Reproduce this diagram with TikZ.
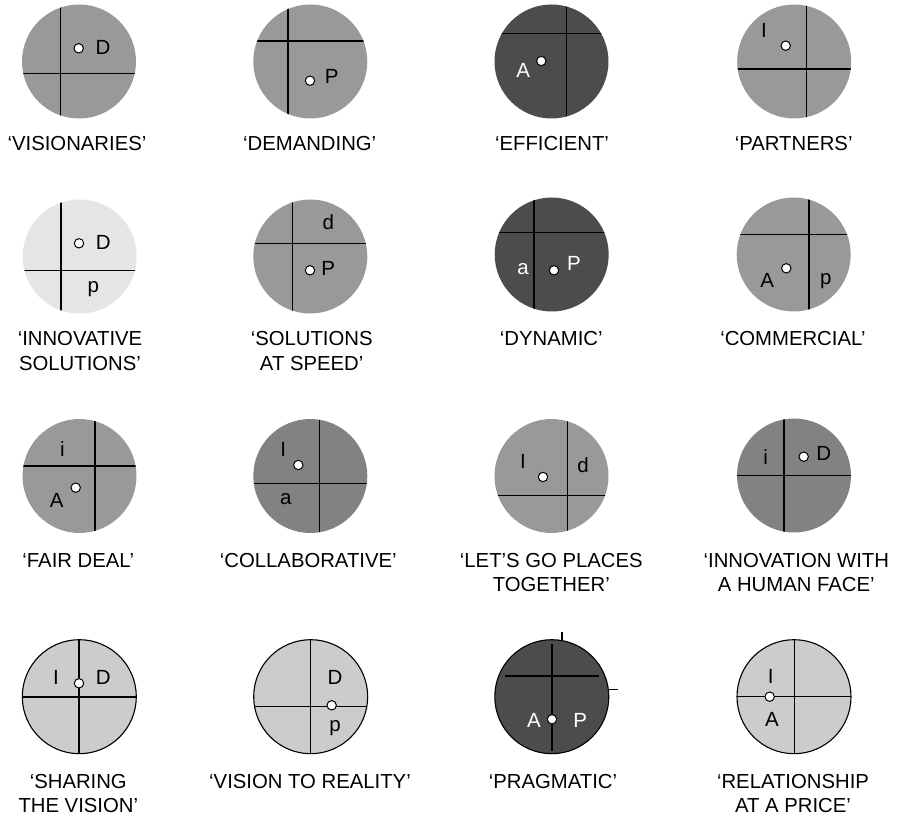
\documentclass[tikz,border=0pt]{standalone}
\usepackage{fontspec}
\setmainfont{Liberation Sans}
\definecolor{gmid}{gray}{0.6}
\definecolor{gdark}{gray}{0.3}
\definecolor{glight}{gray}{0.9}
\definecolor{gmd}{gray}{0.51}
\definecolor{gpale}{gray}{0.8}
\tikzset{
  disc/.style={circle, minimum size=114pt, inner sep=0pt, draw=none},
  ringed/.style={draw=black, line width=1.1pt},
  divider/.style={black, line width=1.2pt},
  dot/.style={circle, fill=white, draw=black, line width=1pt, minimum size=9.4pt, inner sep=0pt},
  letter/.style={font=\fontsize{20.5}{23}\selectfont, inner sep=0pt},
  wletter/.style={letter, text=white},
  caption/.style={font=\fontsize{20.3}{24.5}\selectfont, align=center, inner sep=0pt}
}
% #1 name, #2 cx, #3 cy, #4 fill, #5 vertical x, #6 horizontal y
\newcommand\quaddisc[6]{%
  \node[disc, fill=#4] (#1) at (#2,#3) {};
  \begin{scope}
    \clip (#2,#3) circle (57);
    \draw[divider] (#5,#3-62) -- (#5,#3+62);
    \draw[divider] (#2-62,#6) -- (#2+62,#6);
  \end{scope}}
\begin{document}
\begin{tikzpicture}[x=1pt,y=-1pt]
\useasboundingbox (0,0) rectangle (898,818);
\fill[white] (0,0) rectangle (898,818);

% Row 1
\quaddisc{c1}{79}{61.5}{gmid}{60.7}{73.3}
\node[dot] (d1) at (78.7,48.3) {};
\node[letter] (l1a) at (103,47) {D};
\node[caption] (t1) at (77,143.3) {‘VISIONARIES’};

\quaddisc{c2}{310.3}{61.5}{gmid}{288}{41}
\node[dot] (d2) at (310,80.7) {};
\node[letter] (l2a) at (331.7,76) {P};
\node[caption] (t2) at (309.7,143.3) {‘DEMANDING’};

\quaddisc{c3}{551.5}{61.5}{gdark}{566.7}{33.3}
\node[dot] (d3) at (541.3,61) {};
\node[wletter] (l3a) at (523.3,70) {A};
\node[caption] (t3) at (552,143.3) {‘EFFICIENT’};

\quaddisc{c4}{794.2}{61.5}{gmid}{806.3}{69}
\node[dot] (d4) at (785.7,45.7) {};
\node[letter] (l4a) at (764,30) {I};
\node[caption] (t4) at (793.7,143.3) {‘PARTNERS’};

% Row 2
\quaddisc{c5}{79.7}{256.5}{glight}{61}{270.7}
\node[dot] (d5) at (79,243.3) {};
\node[letter] (l5a) at (103.3,242.3) {D};
\node[letter] (l5b) at (93.3,289.3) {p};
\node[caption] (t5) at (80,350.8) {‘INNOVATIVE\\SOLUTIONS’};

\quaddisc{c6}{310.3}{256.5}{gmid}{292.7}{243.7}
\node[dot] (d6) at (310,270.3) {};
\node[letter] (l6a) at (328.3,268.3) {P};
\node[letter] (l6b) at (328.3,221.7) {d};
\node[caption] (t6) at (311.7,350.8) {‘SOLUTIONS\\AT SPEED’};

\quaddisc{c7}{551.7}{254.5}{gdark}{534}{232.7}
\node[dot] (d7) at (554,270.3) {};
\node[wletter] (l7a) at (574,263.3) {P};
\node[wletter] (l7b) at (523,269.3) {a};
\node[caption] (t7) at (551.3,338.3) {‘DYNAMIC’};

\quaddisc{c8}{793.7}{254.5}{gmid}{809}{234.3}
\node[dot] (d8) at (786.3,268.3) {};
\node[letter] (l8a) at (767.3,280) {A};
\node[letter] (l8b) at (825.7,281) {p};
\node[caption] (t8) at (793,338.3) {‘COMMERCIAL’};

% Row 3
\quaddisc{c9}{79.5}{476}{gmid}{95}{466}
\node[dot] (d9) at (75.7,487.7) {};
\node[letter] (l9a) at (56.7,500) {A};
\node[letter] (l9b) at (62.3,449.3) {i};
\node[caption] (t9) at (78.3,560.7) {‘FAIR DEAL’};

\quaddisc{c10}{310.3}{476}{gmd}{319.3}{483.3}
\node[dot] (d10) at (298.3,465) {};
\node[letter] (l10a) at (283.3,449.3) {I};
\node[letter] (l10b) at (285.7,499) {a};
\node[caption] (t10) at (308.3,560.7) {‘COLLABORATIVE’};

\quaddisc{c11}{551.5}{476}{gmid}{567.3}{495.7}
\node[dot] (d11) at (543,477) {};
\node[letter] (l11a) at (523,461.7) {I};
\node[letter] (l11b) at (583,465) {d};
\node[caption] (t11) at (551.3,572.5) {‘LET’S GO PLACES\\TOGETHER’};

\quaddisc{c12}{794}{475.5}{gmd}{784}{475.7}
\node[dot] (d12) at (803.7,456.7) {};
\node[letter] (l12a) at (823.7,453.3) {D};
\node[letter] (l12b) at (765.7,457.3) {i};
\node[caption] (t12) at (796.3,572.5) {‘INNOVATION WITH\\A HUMAN FACE’};

% Row 4
\quaddisc{c13}{79.3}{696.7}{gpale}{79}{697}
\draw[ringed] (c13.center) circle (57);
\node[dot] (d13) at (79,683.3) {};
\node[letter] (l13a) at (56,677.7) {I};
\node[letter] (l13b) at (103.3,677.7) {D};
\node[caption] (t13) at (78.3,793.7) {‘SHARING\\THE VISION’};

\quaddisc{c14}{310.7}{696.7}{gpale}{310.7}{706.7}
\draw[ringed] (c14.center) circle (57);
\node[dot] (d14) at (331.7,705.3) {};
\node[letter] (l14a) at (335,677.7) {D};
\node[letter] (l14b) at (335,728.3) {p};
\node[caption] (t14) at (310,781.7) {‘VISION TO REALITY’};

\node[disc, fill=gdark] (c15) at (551.8,696.7) {};
\draw[ringed] (c15.center) circle (57);
\coordinate (v15a) at (552,644.3);
\coordinate (v15b) at (552,750.7);
\coordinate (h15a) at (505,676);
\coordinate (h15b) at (599,676);
\draw[divider] (v15a) -- (v15b);
\draw[divider] (h15a) -- (h15b);
\coordinate (k15a) at (562,632.3);
\coordinate (k15b) at (562,640.7);
\coordinate (k15c) at (609.3,689.3);
\coordinate (k15d) at (618.3,689.3);
\draw[divider] (k15a) -- (k15b);
\draw[divider] (k15c) -- (k15d);
\node[dot] (d15) at (552,719.3) {};
\node[wletter] (l15a) at (534,720) {A};
\node[wletter] (l15b) at (580.3,720) {P};
\node[caption] (t15) at (553,781.7) {‘PRAGMATIC’};

\quaddisc{c16}{794}{696.7}{gpale}{794.7}{696.7}
\draw[ringed] (c16.center) circle (57);
\node[dot] (d16) at (769.7,696.7) {};
\node[letter] (l16a) at (770.7,676.7) {I};
\node[letter] (l16b) at (772,719) {A};
\node[caption] (t16) at (793,793.7) {‘RELATIONSHIP\\AT A PRICE’};
\end{tikzpicture}
\end{document}
